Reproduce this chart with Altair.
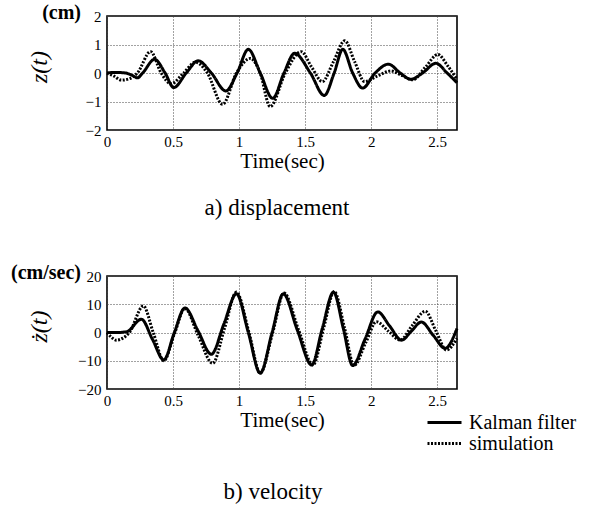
import altair as alt
import pandas as pd

series = ["Kalman filter", "simulation"]

# a) displacement (cm)
t_disp_kf = [0, 0.06, 0.14, 0.19, 0.23, 0.27, 0.36, 0.44, 0.505, 0.60, 0.69, 0.79, 0.90, 0.985,
             1.07, 1.16, 1.255, 1.34, 1.42, 1.54, 1.645, 1.72, 1.785, 1.86, 1.935, 2.03, 2.13,
             2.22, 2.30, 2.39, 2.49, 2.575, 2.65]
z_kf = [0, 0.02, 0.0, -0.08, -0.17, 0.0, 0.48, 0.0, -0.51, 0.0, 0.43, 0.0, -0.63, 0.0,
        0.83, 0.0, -0.89, 0.0, 0.69, 0.0, -0.79, 0.0, 0.83, 0.0, -0.53, 0.0, 0.31,
        0.0, -0.22, 0.0, 0.34, 0.0, -0.34]
t_disp_sim = [0, 0.05, 0.11, 0.17, 0.23, 0.33, 0.41, 0.485, 0.58, 0.67, 0.76, 0.875, 0.98,
              1.085, 1.16, 1.235, 1.35, 1.47, 1.55, 1.63, 1.715, 1.80, 1.875, 1.95, 2.05,
              2.15, 2.23, 2.315, 2.41, 2.505, 2.58, 2.65]
z_sim = [0, -0.1, -0.25, -0.2, 0.0, 0.75, 0.0, -0.38, 0.0, 0.38, 0.0, -1.1, 0.0,
         0.51, 0.0, -1.18, 0.0, 0.75, 0.2, -0.3, 0.4, 1.13, 0.4, -0.3, -0.1,
         0.07, -0.08, -0.24, 0.2, 0.65, 0.25, -0.22]

# b) velocity (cm/sec)
t_vel_kf = [0, 0.08, 0.15, 0.26, 0.345, 0.43, 0.51, 0.59, 0.69, 0.79, 0.885, 0.98, 1.07,
            1.16, 1.25, 1.335, 1.44, 1.55, 1.63, 1.715, 1.79, 1.86, 1.955, 2.05, 2.14,
            2.23, 2.305, 2.38, 2.47, 2.56, 2.65]
v_kf = [0, 0, 0.3, 4.7, -2.5, -9.7, 0, 8.7, 0.5, -7.7, 3, 13.7, 0,
        -14.4, 0, 13.7, 1, -11.5, 1.4, 14.3, 1.3, -11.7, -2.2, 7.3, 2.3,
        -2.7, 0.5, 3.7, -1, -5.6, 1.4]
t_vel_sim = [0, 0.03, 0.07, 0.12, 0.17, 0.275, 0.35, 0.43, 0.51, 0.59, 0.69, 0.80, 0.89,
             0.98, 1.075, 1.16, 1.255, 1.34, 1.45, 1.56, 1.64, 1.72, 1.80, 1.87, 1.96,
             2.04, 2.13, 2.22, 2.31, 2.41, 2.49, 2.57, 2.65]
v_sim = [0, -1.5, -2.7, -2.0, 0, 9.4, 0, -10, -0.5, 8.5, -1, -10.9, 1.5,
         14.3, 0, -14.4, 0, 14.0, 1, -11.5, 1.5, 14.5, 1.3, -11.7, -3.5,
         3.8, 0.5, -2.7, 2.4, 7.5, 0.6, -6.2, -2]

x_ticks = [0, 0.5, 1, 1.5, 2, 2.5]
z_ticks = [-2, -1, 0, 1, 2]
v_ticks = [-20, -10, 0, 10, 20]
x_title = "Time(sec)"
unit_top, var_top, caption_top = "(cm)", "z(t)", "a) displacement"
unit_bot, var_bot, caption_bot = "(cm/sec)", "ż(t)", "b) velocity"

disp = pd.DataFrame({
    "t": t_disp_kf + t_disp_sim,
    "val": z_kf + z_sim,
    "series": [series[0]] * len(t_disp_kf) + [series[1]] * len(t_disp_sim),
})
vel = pd.DataFrame({
    "t": t_vel_kf + t_vel_sim,
    "val": v_kf + v_sim,
    "series": [series[0]] * len(t_vel_kf) + [series[1]] * len(t_vel_sim),
})

FONT = "Times New Roman, Liberation Serif, DejaVu Serif, serif"
W = 350
dash_scale = alt.Scale(domain=series, range=[[1, 0], [2, 1.5]])


def xaxis():
    return alt.X("t:Q", scale=alt.Scale(domain=[0, 2.65], nice=False, zero=False),
                 axis=alt.Axis(values=x_ticks, format="~g", title=x_title, titlePadding=1,
                               labelPadding=4, labelFlush=False))


def label_layer(text, **kw):
    return alt.Chart(pd.DataFrame({"label": [text]})).mark_text(font=FONT, color="black", **kw)


def panel(df, domain, ticks, unit, var, caption, h, legend, cap_y, cap_x):
    lines = alt.Chart(df).mark_line(interpolate="monotone", strokeWidth=3, color="black").encode(
        x=xaxis(),
        y=alt.Y("val:Q", scale=alt.Scale(domain=domain, nice=False),
                axis=alt.Axis(values=ticks, title=None, labelPadding=6)),
        strokeDash=alt.StrokeDash("series:N", scale=dash_scale, legend=legend),
    )
    u = label_layer(unit, fontSize=20, fontWeight="bold", align="right", baseline="middle").encode(
        text="label:N", x=alt.value(-26), y=alt.value(-3))
    v = label_layer(var, fontSize=24, fontStyle="italic", angle=270, align="center",
                    baseline="middle").encode(text="label:N", x=alt.value(-67), y=alt.value(h / 2 - 6))
    c = label_layer(caption, fontSize=23, align="center", baseline="alphabetic").encode(
        text="label:N", x=alt.value(cap_x), y=alt.value(cap_y))
    return alt.layer(lines, u, v, c).properties(width=W, height=h)


legend = alt.Legend(orient="none", legendX=319, legendY=137, title=None, symbolType="stroke",
                    symbolSize=1156, symbolStrokeWidth=2.8, symbolStrokeColor="black",
                    labelFont=FONT, labelFontSize=20, labelColor="black", labelOffset=6,
                    rowPadding=0, clipHeight=19, labelLimit=300)

top = panel(disp, [-2, 2], z_ticks, unit_top, var_top, caption_top, 114, None, 199, 170)
bot = panel(vel, [-20, 20], v_ticks, unit_bot, var_bot, caption_bot, 113, legend, 223, 166)

chart = alt.vconcat(top, bot, spacing=41).resolve_legend(strokeDash="independent").properties(
    padding={"left": 10, "top": 2, "right": 5, "bottom": 6},
    background="white",
).configure_view(stroke="black", strokeWidth=1.6).configure_axis(
    labelFont=FONT, labelFontSize=15, labelColor="black",
    titleFont=FONT, titleFontSize=21, titleFontWeight="normal", titleColor="black",
    grid=True, gridColor="#444", gridDash=[1, 2], gridWidth=1, gridOpacity=1,
    ticks=False, domain=False,
)

chart.save("out.html", embed_options={"renderer": "svg", "actions": False})
